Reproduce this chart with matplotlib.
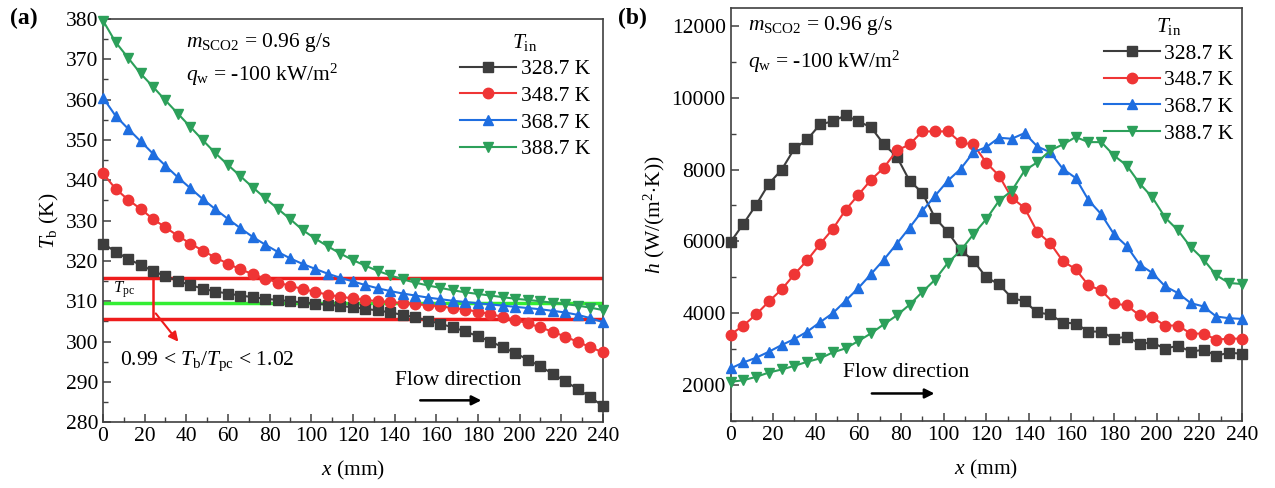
import numpy as np
import matplotlib
matplotlib.use('Agg')
import matplotlib.pyplot as plt
from matplotlib.ticker import MultipleLocator

plt.rcParams['font.family'] = ['Liberation Serif', 'DejaVu Serif']
plt.rcParams['mathtext.fontset'] = 'custom'
plt.rcParams['mathtext.rm'] = 'Liberation Serif'
plt.rcParams['mathtext.it'] = 'Liberation Serif:italic'
plt.rcParams['mathtext.bf'] = 'Liberation Serif:bold'

# axial positions, mm
x = np.arange(0, 241, 6)

labels = ['328.7 K', '348.7 K', '368.7 K', '388.7 K']
colors = ['#3d3d3d', '#ef3535', '#1f6ee0', '#2ca05a']
markers = ['s', 'o', '^', 'v']

# bulk temperature, K
tb_3287 = [324.3, 322.3, 320.5, 319.0, 317.5, 316.2, 315.0, 314.0, 313.1, 312.4,
           311.9, 311.4, 311.0, 310.6, 310.3, 310.0, 309.7, 309.4, 309.1, 308.8,
           308.5, 308.1, 307.7, 307.2, 306.6, 306.0, 305.2, 304.4, 303.5, 302.5,
           301.3, 300.0, 298.6, 297.1, 295.5, 293.8, 292.0, 290.1, 288.2, 286.2, 284.0]
tb_3487 = [341.7, 337.9, 335.2, 332.9, 330.4, 328.3, 326.2, 324.3, 322.5, 320.8,
           319.3, 317.9, 316.7, 315.6, 314.6, 313.8, 313.0, 312.3, 311.6, 311.1,
           310.7, 310.3, 310.0, 309.8, 309.5, 309.3, 309.0, 308.7, 308.3, 307.9,
           307.4, 306.8, 306.1, 305.3, 304.5, 303.5, 302.4, 301.2, 299.9, 298.6, 297.3]
tb_3687 = [360.5, 356.0, 352.8, 349.7, 346.6, 343.6, 340.7, 338.0, 335.3, 332.8,
           330.4, 328.1, 325.9, 324.0, 322.2, 320.6, 319.2, 318.0, 316.8, 315.8,
           314.9, 314.0, 313.2, 312.5, 311.9, 311.4, 310.9, 310.5, 310.1, 309.8,
           309.5, 309.2, 308.9, 308.6, 308.3, 308.0, 307.6, 307.2, 306.6, 305.8, 304.8]
tb_3887 = [379.6, 374.3, 370.4, 366.5, 363.2, 359.8, 356.5, 353.2, 349.9, 346.7,
           343.8, 341.0, 338.2, 335.5, 332.9, 330.3, 327.6, 325.5, 323.6, 321.8,
           320.2, 318.8, 317.5, 316.4, 315.4, 314.6, 313.9, 313.3, 312.7, 312.2,
           311.8, 311.4, 311.0, 310.6, 310.3, 310.0, 309.6, 309.3, 308.9, 308.4, 307.8]

# heat transfer coefficient, W/(m2 K)
h_3287 = [5983, 6487, 7018, 7606, 7998, 8586, 8837, 9257, 9341, 9509,
          9341, 9173, 8697, 8362, 7690, 7354, 6654, 6262, 5759, 5465,
          5003, 4807, 4430, 4331, 4024, 3968, 3744, 3716, 3492, 3492,
          3296, 3352, 3156, 3184, 3016, 3100, 2932, 2988, 2820, 2904, 2876]
h_3487 = [3408, 3660, 3968, 4331, 4667, 5087, 5479, 5927, 6346, 6878,
          7298, 7718, 8054, 8530, 8697, 9061, 9061, 9061, 8753, 8697,
          8194, 7830, 7214, 6934, 6262, 5955, 5451, 5227, 4779, 4639,
          4275, 4219, 3940, 3884, 3660, 3660, 3436, 3436, 3268, 3296, 3296]
h_3687 = [2465, 2633, 2764, 2932, 3118, 3286, 3492, 3752, 4004, 4350,
          4704, 5096, 5497, 5934, 6382, 6849, 7270, 7690, 8017, 8483,
          8623, 8885, 8857, 9014, 8641, 8483, 8017, 7765, 7149, 6757,
          6198, 5869, 5357, 5123, 4751, 4564, 4284, 4191, 3911, 3864, 3845]
h_3887 = [2092, 2139, 2232, 2353, 2437, 2540, 2652, 2745, 2913, 3025,
          3230, 3445, 3697, 3940, 4239, 4592, 4938, 5404, 5749, 6198,
          6618, 7130, 7410, 7970, 8203, 8530, 8698, 8904, 8763, 8763,
          8390, 8110, 7615, 7224, 6663, 6309, 5843, 5497, 5059, 4844, 4816]

tb_all = [tb_3287, tb_3487, tb_3687, tb_3887]
h_all = [h_3287, h_3487, h_3687, h_3887]

t_pc = 309.5
band = [305.6, 315.7]

FS = 15.5

fig = plt.figure(figsize=(12.75, 4.88), dpi=100)
ax1 = fig.add_axes([0.0808, 0.135, 0.392, 0.826])
ax2 = fig.add_axes([0.573, 0.137, 0.401, 0.847])


def style_axis(ax):
    for sp in ax.spines.values():
        sp.set_color('#404040')
        sp.set_linewidth(1.2)
    ax.tick_params(which='both', direction='in', top=False, right=False,
                   labelsize=FS, color='#404040')
    ax.tick_params(which='major', length=6, width=1.1)
    ax.tick_params(which='minor', length=3.5, width=1.0)
    ax.set_xlim(0, 240)
    ax.xaxis.set_major_locator(MultipleLocator(20))
    ax.xaxis.set_minor_locator(MultipleLocator(10))
    ax.set_xlabel('$x$ (mm)', fontsize=FS, labelpad=9)


for tb, c, m, lab in zip(tb_all, colors, markers, labels):
    ax1.plot(x, tb, color=c, marker=m, markersize=7.5, lw=1.5, label=lab, clip_on=False, zorder=3)

ax1.axhline(band[0], color='#ee1c1c', lw=2.5, zorder=2)
ax1.axhline(band[1], color='#ee1c1c', lw=2.5, zorder=2)
ax1.axhline(t_pc, color='#33ee33', lw=2.5, zorder=2)
ax1.plot([24, 24], band, color='#ee1c1c', lw=1.8, zorder=2)
ax1.annotate('', xy=(37, 299.4), xytext=(24.5, 307.5),
             arrowprops=dict(arrowstyle='-|>', color='#ee1c1c', lw=1.5, mutation_scale=14))
ax1.text(5, 312.8, '$T_{\\rm pc}$', fontsize=12, va='center')
ax1.text(8, 295, '0.99 < $T_{\\rm b}/T_{\\rm pc}$ < 1.02', fontsize=FS, va='center')
ax1.text(140, 290.3, 'Flow direction', fontsize=FS, va='center')
ax1.annotate('', xy=(183, 285.4), xytext=(151, 285.4),
             arrowprops=dict(arrowstyle='-|>', color='black', lw=1.8, mutation_scale=14))
ax1.text(40, 374.3, '$m_{\\rm SCO2}$ = 0.96 g/s', fontsize=FS, va='center')
ax1.text(40, 366.2, '$q_{\\rm w}$ = -100 kW/m$^2$', fontsize=FS, va='center')

style_axis(ax1)
ax1.set_ylim(280, 380)
ax1.yaxis.set_major_locator(MultipleLocator(10))
ax1.yaxis.set_minor_locator(MultipleLocator(5))
ax1.set_ylabel('$T_{\\rm b}$ (K)', fontsize=FS, labelpad=3)
leg1 = ax1.legend(title='$T_{\\rm in}$', loc='upper right', frameon=False, fontsize=FS,
                  title_fontsize=FS, handlelength=2.6, handletextpad=0.2,
                  labelspacing=0.3, borderaxespad=0.2, bbox_to_anchor=(1.0, 1.0))

for h, c, m, lab in zip(h_all, colors, markers, labels):
    ax2.plot(x, h, color=c, marker=m, markersize=7.5, lw=1.5, label=lab, clip_on=False, zorder=3)

ax2.text(8, 12000, '$m_{\\rm SCO2}$ = 0.96 g/s', fontsize=FS, va='center')
ax2.text(8, 11000, '$q_{\\rm w}$ = -100 kW/m$^2$', fontsize=FS, va='center')
ax2.text(53, 2350, 'Flow direction', fontsize=FS, va='center')
ax2.annotate('', xy=(97, 1770), xytext=(65, 1770),
             arrowprops=dict(arrowstyle='-|>', color='black', lw=1.8, mutation_scale=14))

style_axis(ax2)
ax2.set_ylim(1000, 12500)
ax2.yaxis.set_major_locator(MultipleLocator(2000))
ax2.yaxis.set_minor_locator(MultipleLocator(1000))
ax2.set_ylabel('$h$ (W/(m$^2$$\\cdot$K))', fontsize=FS, labelpad=3)
leg2 = ax2.legend(title='$T_{\\rm in}$', loc='upper right', frameon=False, fontsize=FS,
                  title_fontsize=FS, handlelength=2.6, handletextpad=0.2,
                  labelspacing=0.3, borderaxespad=0.0, bbox_to_anchor=(1.0, 1.0))

fig.text(10 / 1275, 1 - 18 / 488, '(a)', fontsize=17, fontweight='bold', va='center')
fig.text(618 / 1275, 1 - 18 / 488, '(b)', fontsize=17, fontweight='bold', va='center')

fig.savefig('out.png', dpi=100)
